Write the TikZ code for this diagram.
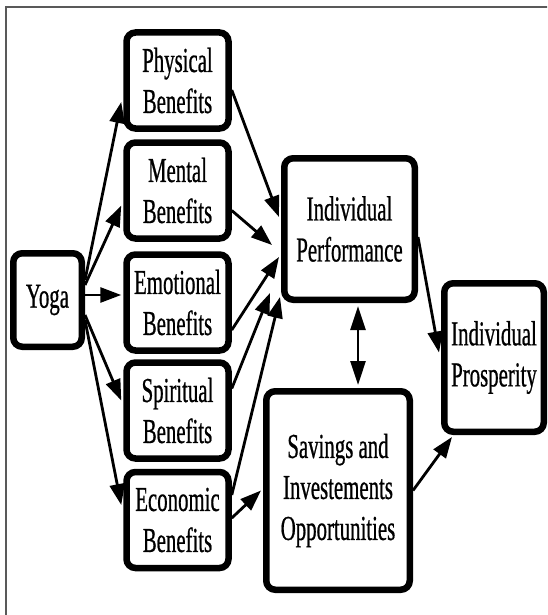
\documentclass[tikz,border=0pt]{standalone}
\usepackage{fontspec}
\setmainfont{Liberation Serif}[FakeStretch=0.595,FakeBold=0.6]
\usetikzlibrary{arrows.meta}
\tikzset{
  box/.style={rectangle, rounded corners=9pt, draw=black, line width=6.5pt, fill=white,
              align=center, inner sep=0pt, font=\fontsize{35}{41}\selectfont},
  ben/.style={box, minimum width=102pt, minimum height=96pt},
  ar/.style={-{Triangle[length=21pt,width=15pt]}, line width=2.8pt},
  dar/.style={{Triangle[length=24pt,width=15pt]}-{Triangle[length=24pt,width=15pt]}, line width=2.8pt},
  frame/.style={draw=black!65, line width=2pt},
}

\begin{document}
\begin{tikzpicture}[x=1pt,y=1pt]
\useasboundingbox (0,0) rectangle (547,-615);
\clip (0,0) rectangle (547,-615);
\draw[frame] (6,-7) rectangle (600,-700);

% ===================== 1. source and the five benefits =====================
\node[box, minimum width=68.5pt, minimum height=93.5pt] (yoga) at (47.5,-300) {Yoga};
\node[ben] (b1) at (177.5,-80.5) {Physical\\Benefits};
\node[ben] (b2) at (177.5,-190.5) {Mental\\Benefits};
\node[ben] (b3) at (177.5,-302.5) {Emotional\\Benefits};
\node[ben] (b4) at (177.5,-410.5) {Spiritual\\Benefits};
\node[ben] (b5) at (177.5,-520) {Economic\\Benefits};

\draw[ar] ([yshift=20pt]yoga.east) -- ([xshift=-2pt,yshift=-21.5pt]b1.west);
\draw[ar] ([yshift=15pt]yoga.east) -- ([xshift=-2pt,yshift=-15pt]b2.west);
\draw[ar] ([yshift=5pt]yoga.east) -- ([xshift=-2pt,yshift=7.5pt]b3.west);
\draw[ar] ([yshift=-15pt]yoga.east) -- ([xshift=-2pt,yshift=10pt]b4.west);
\draw[ar] ([yshift=-20pt]yoga.east) -- ([xshift=-2pt,yshift=15pt]b5.west);

% ===================== 2. performance and savings ==========================
\node[box, minimum width=130.5pt, minimum height=141.5pt] (perf) at (349.5,-229)
  {Individual\\Performance};
\node[box, minimum width=143.5pt, minimum height=198.5pt] (sav) at (338,-490.5)
  {Savings and\\Investements\\Opportunities};

\draw[ar] ([yshift=-9.5pt]b1.east) -- ([xshift=-2pt,yshift=12pt]perf.west);
\draw[ar] ([yshift=-20pt]b2.east) -- ([xshift=-9pt,yshift=-16pt]perf.west);
\draw[ar] ([yshift=-27.5pt]b3.east) -- ([xshift=-2pt,yshift=-28pt]perf.west);
\draw[ar] ([yshift=22pt]b4.east) -- ([xshift=-11pt,yshift=-64pt]perf.west);
\draw[ar] ([yshift=25pt]b5.east) -- ([xshift=-1pt,yshift=6pt]perf.south west);
\draw[ar] ([yshift=2pt]b5.east) -- ([xshift=-2pt]sav.west);
\draw[dar] ([xshift=8.5pt,yshift=-3pt]perf.south) -- ([xshift=8.5pt,yshift=3pt]perf.south |- sav.north);

% ===================== 3. the outcome ======================================
\node[box, minimum width=99.5pt, minimum height=148.5pt] (pros) at (494,-357.5)
  {Individual\\Prosperity};

\draw[ar] ([yshift=-8pt]perf.east) -- ([xshift=-2pt,yshift=5pt]pros.west);
\draw[ar] (sav.east) -- ([xshift=11pt,yshift=-2pt]pros.south west);

\end{tikzpicture}
\end{document}
